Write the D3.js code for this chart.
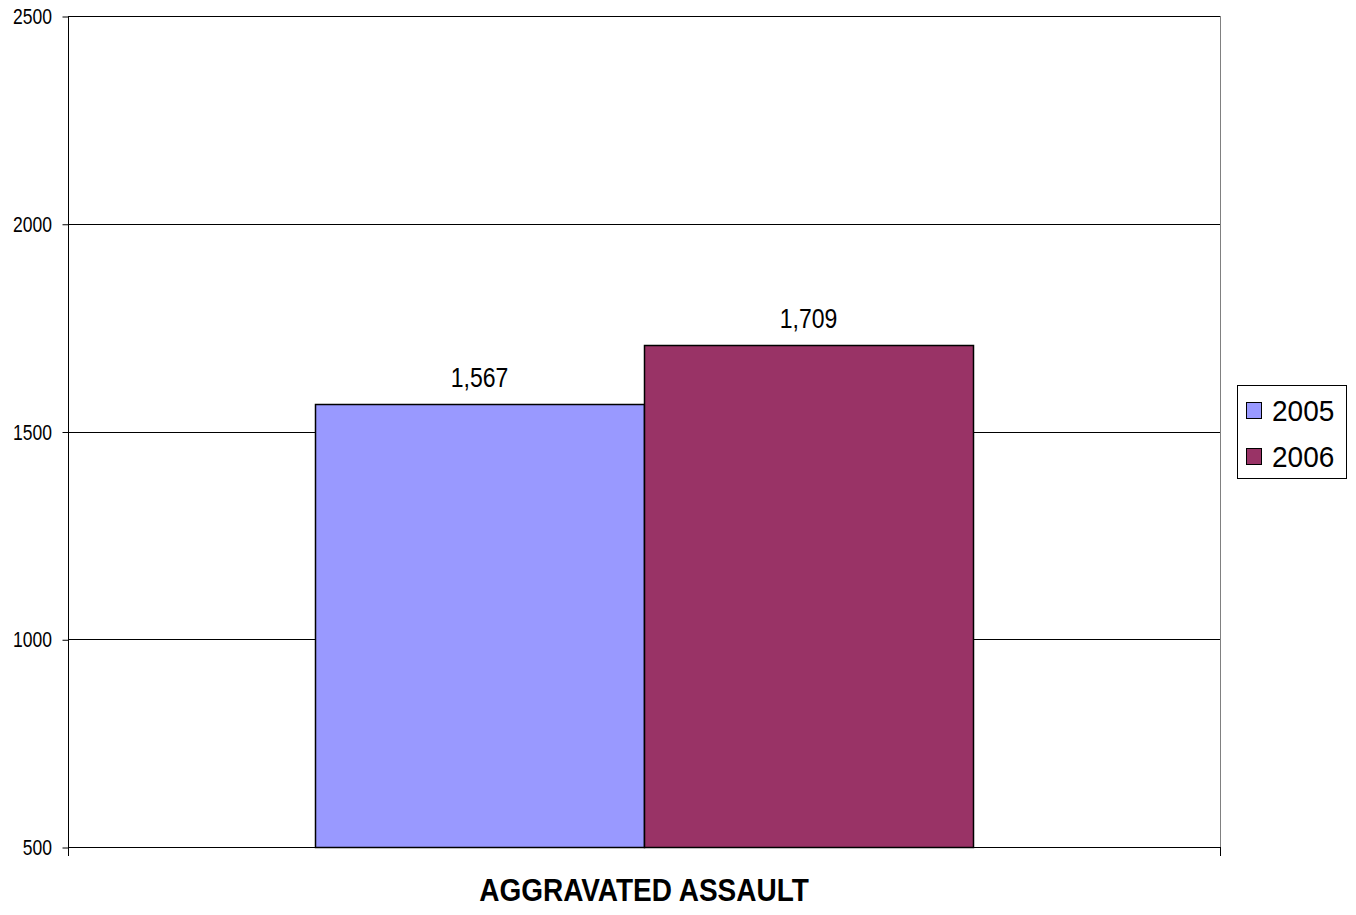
<!DOCTYPE html>
<html><head><meta charset="utf-8">
<script src="https://cdn.jsdelivr.net/npm/d3@7"></script>
<style>body{margin:0;background:#fff}svg{display:block}text{font-family:"Liberation Sans",Arial,sans-serif}</style>
</head><body><svg id="c" width="1356" height="915"></svg>
<script>
const categories = ["AGGRAVATED ASSAULT"];
const seriesNames = ["2005", "2006"];
const seriesValues = [1567, 1709];
const seriesColors = ["#9999FF", "#993366"];
const yTicks = [500, 1000, 1500, 2000, 2500];

const svg = d3.select("#c");
const L = 68, R = 1220, T = 16, B = 847;
const y = d3.scaleLinear().domain([500, 2500]).range([B, T]);
const x0 = d3.scaleBand().domain(categories).range([L, R]);
const x1 = d3.scaleBand().domain(seriesNames).range([315, 973]).padding(0);

// helper: vertically stretched text
function stext(g, x, yb, txt, size, k, anchor, weight) {
  return g.append("text")
    .attr("transform", `translate(${x},${yb}) scale(1,${k})`)
    .attr("text-anchor", anchor || "start")
    .attr("font-size", size)
    .attr("font-weight", weight || "normal")
    .attr("fill", "#000")
    .text(txt);
}

// plot border (gray)
svg.append("rect").attr("x", L + 0.5).attr("y", T + 0.5).attr("width", R - L).attr("height", B - T)
  .attr("fill", "none").attr("stroke", "#808080").attr("stroke-width", 1);

// gridlines
svg.append("g").selectAll("line").data(yTicks.filter(d => d > 500)).join("line")
  .attr("x1", L).attr("x2", R).attr("y1", d => Math.round(y(d)) + 0.5).attr("y2", d => Math.round(y(d)) + 0.5)
  .attr("stroke", "#000").attr("stroke-width", 1);

// y axis (ticks via d3 axis, labels stretched)
const yAxis = d3.axisLeft(y).tickValues(yTicks).tickSize(6).tickFormat("");
const gy = svg.append("g").attr("transform", `translate(${L + 0.5},0.5)`).call(yAxis);
gy.select(".domain").attr("d", `M0,${T}V${B}`).attr("stroke", "#000");
gy.selectAll("line").attr("stroke", "#000");
const gl = svg.append("g");
yTicks.forEach(t => stext(gl, 52, Math.round(y(t)) + 7.5, d3.format("d")(t), 17.5, 1.25, "end"));

// x axis
svg.append("line").attr("x1", L).attr("x2", R).attr("y1", B + 0.5).attr("y2", B + 0.5).attr("stroke", "#000");
svg.append("g").selectAll("line").data([L, R]).join("line")
  .attr("x1", d => d + 0.5).attr("x2", d => d + 0.5).attr("y1", B).attr("y2", B + 9).attr("stroke", "#000");

// bars
svg.append("g").selectAll("rect").data(seriesValues).join("rect")
  .attr("x", (d, i) => x1(seriesNames[i]) + 0.5)
  .attr("y", d => Math.round(y(d)) + 0.5)
  .attr("width", x1.bandwidth())
  .attr("height", d => B - Math.round(y(d)))
  .attr("fill", (d, i) => seriesColors[i]).attr("stroke", "#000").attr("stroke-width", 1.5);

// labels
const bl = svg.append("g");
seriesValues.forEach((v, i) => stext(bl, x1(seriesNames[i]) + x1.bandwidth() / 2, y(v) - 17, d3.format(",")(v), 23, 1.21, "middle"));

// category label
stext(svg, x0(categories[0]) + x0.bandwidth() / 2, 901, categories[0], 28, 1.12, "middle", "bold");

// legend
const lg = svg.append("g");
lg.append("rect").attr("x", 1237.5).attr("y", 385.5).attr("width", 109).attr("height", 93)
  .attr("fill", "#fff").attr("stroke", "#000");
seriesNames.forEach((s, i) => {
  const yy = 402 + i * 46;
  lg.append("rect").attr("x", 1246.5).attr("y", yy + 0.5).attr("width", 15).attr("height", 16)
    .attr("fill", seriesColors[i]).attr("stroke", "#000");
  stext(lg, 1272, yy + 19, s, 28, 1.08, "start");
});
</script></body></html>
